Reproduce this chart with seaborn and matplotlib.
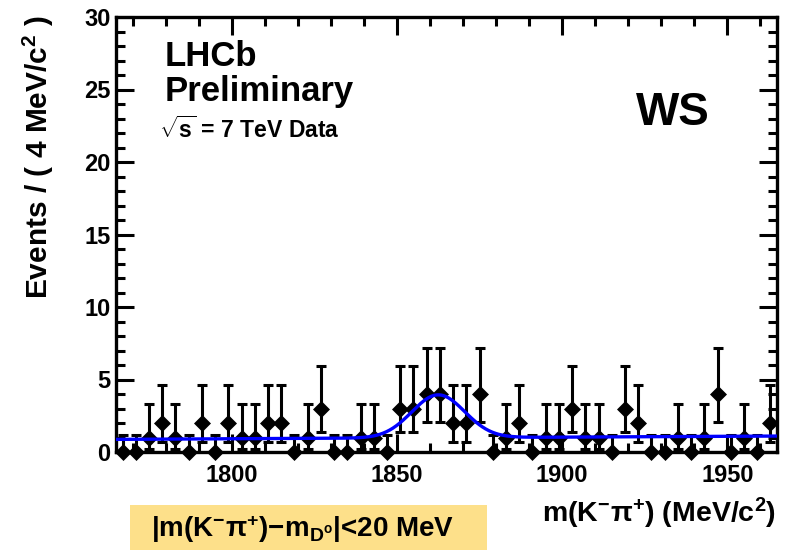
import numpy as np
import pandas as pd
import matplotlib
matplotlib.use("Agg")
import matplotlib.pyplot as plt
import seaborn as sns
from matplotlib.patches import Rectangle
from matplotlib.ticker import MultipleLocator

# ---- data ----
bin_low = 1765.0
bin_width = 4.0
counts = [0, 0, 1, 2, 1, 0, 2, 0, 2, 1,
          1, 2, 2, 0, 1, 3, 0, 0, 1, 1,
          0, 3, 3, 4, 4, 2, 2, 4, 0, 1,
          2, 0, 1, 1, 3, 1, 1, 0, 3, 2,
          0, 0, 1, 0, 1, 4, 0, 1, 0, 2]
# Poisson (RooFit-style) asymmetric errors per count
poisson_err_lo = {0: 0.0, 1: 0.827, 2: 1.292, 3: 1.633, 4: 1.914}
poisson_err_hi = {0: 1.148, 1: 2.300, 2: 2.638, 3: 2.918, 4: 3.163}
# fit model parameters (Gaussian signal + linear background)
fit_mean = 1862.5
fit_sigma = 8.0
fit_amp = 2.96
bg_at_low = 0.87
bg_slope = 0.00115
x_ticks = [1800, 1850, 1900, 1950]
y_ticks = [0, 5, 10, 15, 20, 25, 30]

centers = bin_low + bin_width * (np.arange(len(counts)) + 0.5)
df = pd.DataFrame({"mass": centers, "events": counts})
df["lo"] = [poisson_err_lo[c] for c in counts]
df["hi"] = [poisson_err_hi[c] for c in counts]

xc = np.linspace(bin_low, bin_low + bin_width * len(counts), 600)
curve = pd.DataFrame({
    "mass": xc,
    "model": bg_at_low + bg_slope * (xc - bin_low)
             + fit_amp * np.exp(-0.5 * ((xc - fit_mean) / fit_sigma) ** 2),
})

# ---- style ----
sns.set_theme(style="ticks")
plt.rcParams["font.family"] = ["Liberation Sans", "DejaVu Sans"]
plt.rcParams["font.weight"] = "bold"
plt.rcParams["text.color"] = "black"
plt.rcParams["axes.labelcolor"] = "black"
plt.rcParams["xtick.color"] = "black"
plt.rcParams["ytick.color"] = "black"
plt.rcParams["mathtext.fontset"] = "custom"
plt.rcParams["mathtext.rm"] = "Liberation Sans:bold"
plt.rcParams["mathtext.it"] = "Liberation Sans:bold"
plt.rcParams["mathtext.bf"] = "Liberation Sans:bold"
plt.rcParams["mathtext.default"] = "bf"

W, H = 792, 550
fig = plt.figure(figsize=(W / 100, H / 100), dpi=100)
ax = fig.add_axes([116 / W, 1 - 452 / H, (777 - 116) / W, (452 - 17) / H])

# data points with asymmetric error bars
ax.errorbar(df["mass"], df["events"], yerr=[df["lo"], df["hi"]],
            fmt="none", ecolor="black", elinewidth=2.2, capsize=3.5,
            capthick=2.2, clip_on=False, zorder=3)
sns.scatterplot(data=df, x="mass", y="events", ax=ax, marker="D", s=75,
                color="black", edgecolor="black", linewidth=0, zorder=4,
                clip_on=False, legend=False)
# fit curve
sns.lineplot(data=curve, x="mass", y="model", ax=ax, color="#0000ff",
             linewidth=2.4, zorder=5, legend=False)

ax.set_xlim(bin_low, bin_low + bin_width * len(counts))
ax.set_ylim(0, 30)
ax.set_xticks(x_ticks)
ax.set_yticks(y_ticks)
ax.set_xticklabels([str(t) for t in x_ticks], fontsize=17, fontweight="bold",
                   color="black")
ax.set_yticklabels([str(t) for t in y_ticks], fontsize=17, fontweight="bold",
                   color="black")
ax.xaxis.set_minor_locator(MultipleLocator(10))
ax.yaxis.set_minor_locator(MultipleLocator(1))
ax.tick_params(which="both", direction="in", top=True, right=True,
               color="black", width=2.2)
ax.tick_params(which="major", length=13)
ax.tick_params(which="minor", length=6.5)
ax.tick_params(axis="x", which="major", pad=9)
ax.tick_params(axis="y", which="major", pad=4)
ax.set_xlabel("")
ax.set_ylabel("")
for sp in ax.spines.values():
    sp.set_linewidth(2.4)
    sp.set_color("black")

# axis titles (ROOT style: right/top aligned)
fig.text(776 / W, 1 - 522 / H, r"m(K$^{-}\pi^{+}$) (MeV/c$^{2}$)",
         ha="right", va="baseline", fontsize=20.5, fontweight="bold",
         color="black")
fig.text(38 / W, 1 - 15 / H, r"Events / ( 4 MeV/c$^{2}$ )", rotation=90,
         ha="center", va="top", fontsize=21.5, fontweight="bold",
         color="black")

# annotations
fig.text(165 / W, 1 - 66 / H, "LHCb", ha="left", va="baseline",
         fontsize=25, fontweight="bold", color="black")
fig.text(165 / W, 1 - 101 / H, "Preliminary", ha="left", va="baseline",
         fontsize=25, fontweight="bold", color="black")
fig.text(159 / W, 1 - 138 / H, r"$\sqrt{s}$ = 7 TeV Data", ha="left",
         va="baseline", fontsize=16.5, fontweight="bold", color="black")
fig.text(636 / W, 1 - 125 / H, "WS", ha="left", va="baseline",
         fontsize=33, fontweight="bold", color="black")

# yellow selection box
fig.patches.append(Rectangle((130 / W, 0), (487 - 130) / W, (550 - 505) / H,
                             transform=fig.transFigure, facecolor="#fde08a",
                             edgecolor="none", zorder=0))
fig.text(303 / W, 1 - 537 / H,
         r"|m(K$^{-}\pi^{+}$)$-$m$_{D^{o}}$|<20 MeV",
         ha="center", va="baseline", fontsize=20, fontweight="bold",
         color="black")

fig.savefig("out.png", dpi=100)
